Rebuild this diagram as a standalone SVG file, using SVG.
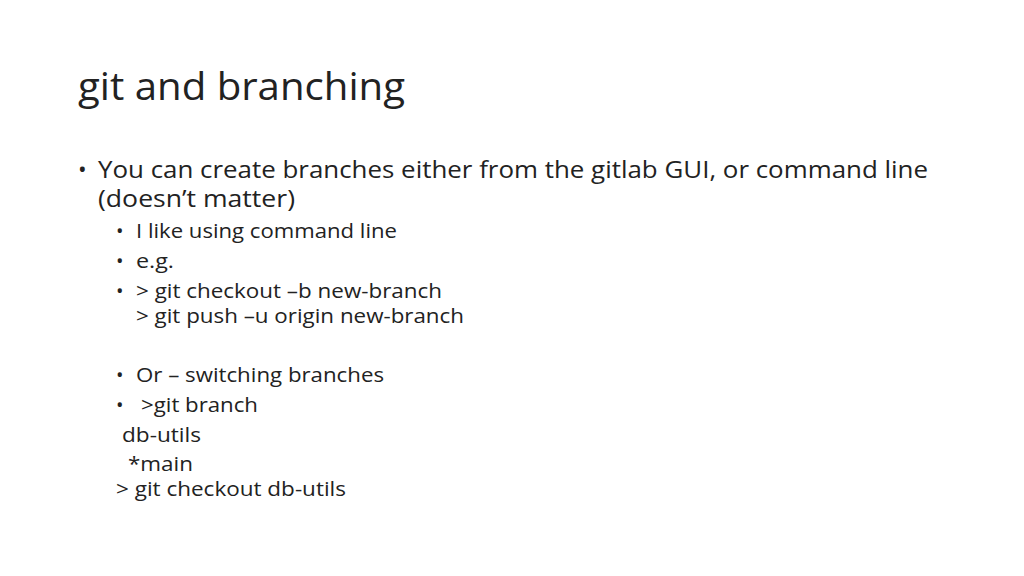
<svg xmlns="http://www.w3.org/2000/svg" width="1024" height="576" viewBox="0 0 1024 576">
<style>
text{font-family:"Open Sans","Liberation Sans",sans-serif;fill:#222}
.t{font-size:38px}
.b1{font-size:23px}
.b2{font-size:20px}
</style>
<rect width="1024" height="576" fill="#fff"/>
<text class="t" x="78" y="100" textLength="327" lengthAdjust="spacingAndGlyphs">git and branching</text>
<text class="b1" x="78" y="178">•</text>
<text class="b1" x="98" y="178" textLength="830" lengthAdjust="spacingAndGlyphs">You can create branches either from the gitlab GUI, or command line</text>
<text class="b1" x="98" y="207" textLength="197" lengthAdjust="spacingAndGlyphs">(doesn’t matter)</text>
<text class="b2" x="116" y="238">•</text>
<text class="b2" x="136" y="238" textLength="261" lengthAdjust="spacingAndGlyphs">I like using command line</text>
<text class="b2" x="116" y="268">•</text>
<text class="b2" x="136" y="268" textLength="38" lengthAdjust="spacingAndGlyphs">e.g.</text>
<text class="b2" x="116" y="298">•</text>
<text class="b2" x="136" y="298" textLength="306" lengthAdjust="spacingAndGlyphs">&gt; git checkout –b new-branch</text>
<text class="b2" x="136" y="323" textLength="328" lengthAdjust="spacingAndGlyphs">&gt; git push –u origin new-branch</text>
<text class="b2" x="116" y="382">•</text>
<text class="b2" x="136" y="382" textLength="248" lengthAdjust="spacingAndGlyphs">Or – switching branches</text>
<text class="b2" x="116" y="412">•</text>
<text class="b2" x="141" y="412" textLength="117" lengthAdjust="spacingAndGlyphs">&gt;git branch</text>
<text class="b2" x="122" y="442" textLength="79" lengthAdjust="spacingAndGlyphs">db-utils</text>
<text class="b2" x="128" y="471" textLength="65" lengthAdjust="spacingAndGlyphs">*main</text>
<text class="b2" x="116" y="496" textLength="230" lengthAdjust="spacingAndGlyphs">&gt; git checkout db-utils</text>
</svg>
